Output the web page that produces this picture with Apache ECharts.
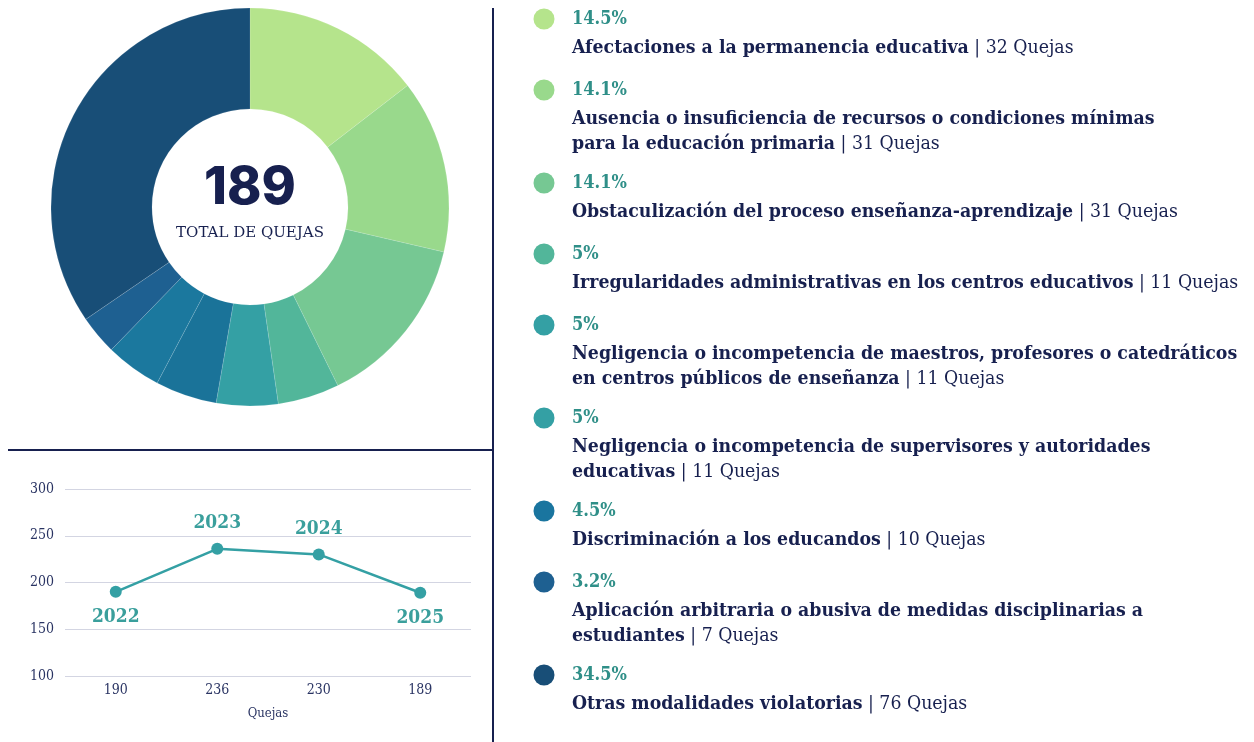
<!DOCTYPE html>
<html>
<head>
<meta charset="utf-8">
<script src="https://cdn.jsdelivr.net/npm/echarts@6/dist/echarts.min.js"></script>
<style>
  html, body { margin: 0; padding: 0; background: #fff; }
  #chart-container { width: 1254px; height: 742px; }
</style>
</head>
<body>
<div id="chart-container"></div>
<script>
var dom = document.getElementById('chart-container');
var myChart = echarts.init(dom, null, { renderer: 'canvas' });

// categorias de quejas (donut + leyenda)
var categorias = [
  ['Afectaciones a la permanencia educativa'],
  ['Ausencia o insuficiencia de recursos o condiciones mínimas', 'para la educación primaria'],
  ['Obstaculización del proceso enseñanza-aprendizaje'],
  ['Irregularidades administrativas en los centros educativos'],
  ['Negligencia o incompetencia de maestros, profesores o catedráticos', 'en centros públicos de enseñanza'],
  ['Negligencia o incompetencia de supervisores y autoridades', 'educativas'],
  ['Discriminación a los educandos'],
  ['Aplicación arbitraria o abusiva de medidas disciplinarias a', 'estudiantes'],
  ['Otras modalidades violatorias']
];
var quejas = [32, 31, 31, 11, 11, 11, 10, 7, 76];
var porcentajes = ['14.5%', '14.1%', '14.1%', '5%', '5%', '5%', '4.5%', '3.2%', '34.5%'];
var coloresDonut = ['#b5e48c', '#99d98c', '#76c893', '#52b69a', '#34a0a4', '#1a7399', '#1b789e', '#1e6091', '#184e77'];
var coloresLeyenda = ['#b5e48c', '#99d98c', '#76c893', '#52b69a', '#34a0a4', '#34a0a4', '#1a759f', '#1e6091', '#184e77'];
var total = 189;

// serie historica
var anios = ['2022', '2023', '2024', '2025'];
var totalesAnuales = [190, 236, 230, 189];

var navy = '#17204f';
var teal = '#34a0a4';
var serif = '"DejaVu Serif Condensed", "Liberation Serif", serif';

// leyenda a la derecha
var graphics = [];
var y = 19;
categorias.forEach(function (lineas, i) {
  graphics.push({
    type: 'circle',
    shape: { cx: 544, cy: y, r: 10.5 },
    style: { fill: coloresLeyenda[i] }
  });
  graphics.push({
    type: 'text',
    x: 572, y: y,
    style: {
      text: porcentajes[i],
      fill: '#2f8f88',
      font: 'bold 18px ' + serif,
      verticalAlign: 'middle'
    }
  });
  var txt = lineas.map(function (l, k) {
    if (k === lineas.length - 1) {
      return '{b|' + l + '}{r| | ' + quejas[i] + ' Quejas}';
    }
    return '{b|' + l + '}';
  }).join('\n');
  graphics.push({
    type: 'text',
    x: 572, y: y + 16,
    style: {
      text: txt,
      verticalAlign: 'top',
      rich: {
        b: { font: 'bold 19.3px ' + serif, fill: navy, lineHeight: 25 },
        r: { font: '19.3px ' + serif, fill: navy, lineHeight: 25 }
      }
    }
  });
  y += lineas.length > 1 ? 93 : 71;
});

// separadores
graphics.push({ type: 'line', shape: { x1: 493, y1: 8, x2: 493, y2: 742 }, style: { stroke: navy, lineWidth: 2 } });
graphics.push({ type: 'line', shape: { x1: 8, y1: 450, x2: 493, y2: 450 }, style: { stroke: navy, lineWidth: 2 } });

// centro del donut
graphics.push({
  type: 'text', x: 250, y: 188,
  style: { text: String(total), font: '800 52px Inter, Roboto, sans-serif', fill: navy, align: 'center', verticalAlign: 'middle' }
});
graphics.push({
  type: 'text', x: 250, y: 233,
  style: { text: 'TOTAL DE QUEJAS', font: '15px "DejaVu Serif", serif', fill: navy, align: 'center', verticalAlign: 'middle' }
});

var option = {
  animation: false,
  grid: { left: 65, right: 783, top: 489, bottom: 66 },
  xAxis: {
    type: 'category',
    data: totalesAnuales.map(String),
    axisLine: { show: false },
    axisTick: { show: false },
    axisLabel: { color: '#2a3463', fontFamily: serif, fontSize: 14, margin: 7 },
    name: 'Quejas',
    nameLocation: 'middle',
    nameGap: 31,
    nameTextStyle: { color: '#2a3463', fontFamily: serif, fontSize: 13 }
  },
  yAxis: {
    type: 'value',
    min: 100, max: 300, interval: 50,
    axisLabel: { color: '#2a3463', fontFamily: serif, fontSize: 14, margin: 11 },
    splitLine: { lineStyle: { color: '#d3d5e2', width: 1 } }
  },
  series: [
    {
      type: 'pie',
      center: [250, 207],
      radius: [98, 199],
      startAngle: 90,
      clockwise: true,
      label: { show: false },
      labelLine: { show: false },
      itemStyle: { borderColor: 'rgba(255,255,255,0.25)', borderWidth: 0.5 },
      data: quejas.map(function (v, i) {
        return { value: v, name: categorias[i].join(' '), itemStyle: { color: coloresDonut[i] } };
      })
    },
    {
      type: 'line',
      data: totalesAnuales.map(function (v, i) {
        return {
          value: v,
          label: { position: (i === 0 || i === totalesAnuales.length - 1) ? 'bottom' : 'top' }
        };
      }),
      symbol: 'circle',
      symbolSize: 12,
      lineStyle: { color: teal, width: 2.5 },
      itemStyle: { color: teal },
      label: {
        show: true,
        distance: 10,
        color: '#3a9f9c',
        fontFamily: serif,
        fontWeight: 'bold',
        fontSize: 19,
        formatter: function (p) { return anios[p.dataIndex]; }
      }
    }
  ],
  graphic: graphics
};

myChart.setOption(option);
window.addEventListener('resize', myChart.resize);
</script>
</body>
</html>
